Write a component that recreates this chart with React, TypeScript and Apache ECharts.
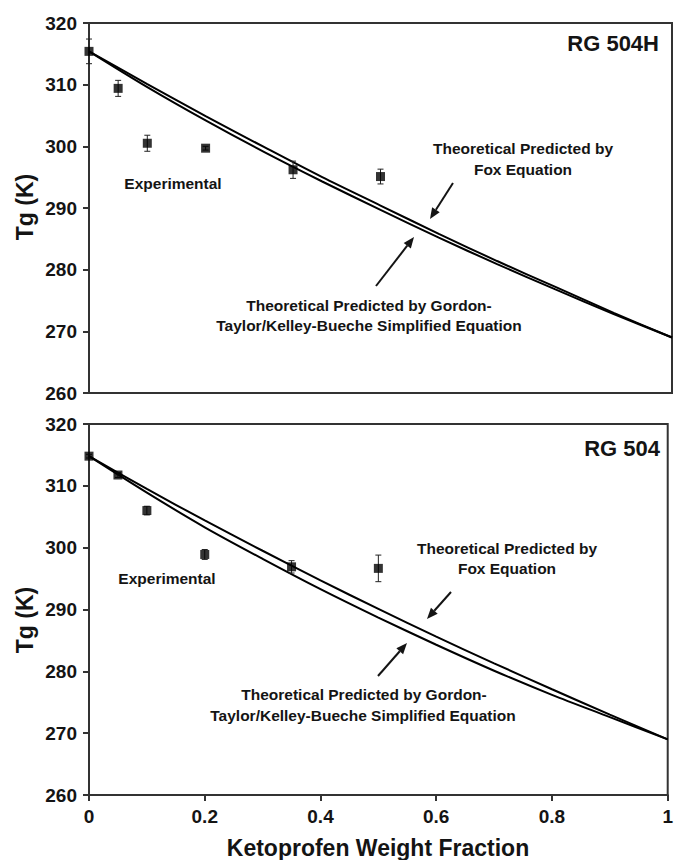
import React, { useEffect, useRef } from "react";
import * as echarts from "echarts";

const weightFraction = [0, 0.1, 0.2, 0.3, 0.4, 0.5, 0.6, 0.7, 0.8, 0.9, 1.0];
const foxTop = [315.4, 310.1, 304.9, 299.9, 295.0, 290.4, 285.8, 281.4, 277.2, 273.0, 269.0];
const gtTop = [315.4, 309.6, 304.2, 299.1, 294.3, 289.7, 285.2, 280.9, 276.8, 272.8, 269.0];
const foxBottom = [314.8, 309.5, 304.4, 299.5, 294.7, 290.1, 285.6, 281.3, 277.1, 273.0, 269.0];
const gtBottom = [314.8, 308.9, 303.3, 298.2, 293.3, 288.7, 284.3, 280.1, 276.2, 272.6, 269.0];

const expFraction = [0, 0.05, 0.1, 0.2, 0.35, 0.5];
const expTop = [315.4, 309.4, 300.5, 299.7, 296.2, 295.1];
const errTop = [2.0, 1.3, 1.3, 0.3, 1.4, 1.2];
const expBottom = [314.8, 311.75, 306.0, 298.9, 296.9, 296.65];
const errBottom = [0.3, 0.4, 0.7, 0.8, 1.0, 2.15];

const xTickLabels = ["0", "0.2", "0.4", "0.6", "0.8", "1"];
const yTickLabels = ["260", "270", "280", "290", "300", "310", "320"];

const FONT = "'Liberation Sans', Arial, sans-serif";
const INK = "#141414";

function arrow(x1: number, y1: number, x2: number, y2: number) {
  const a = Math.atan2(y2 - y1, x2 - x1);
  const L = 11;
  const W = 4.5;
  const bx = x2 - L * Math.cos(a);
  const by = y2 - L * Math.sin(a);
  const px = -Math.sin(a) * W;
  const py = Math.cos(a) * W;
  return [
    { type: "line", shape: { x1, y1, x2: bx, y2: by }, style: { stroke: INK, lineWidth: 2 } },
    {
      type: "polygon",
      shape: { points: [[x2, y2], [bx + px, by + py], [bx - px, by - py]] },
      style: { fill: INK },
    },
  ];
}

function txt(text: string, x: number, y: number, size: number, align = "center") {
  return {
    type: "text",
    x,
    y,
    style: {
      text,
      fill: INK,
      font: `bold ${size}px ${FONT}`,
      textAlign: align,
      textVerticalAlign: "middle",
    },
  };
}

function errorSeries(xs: number[], ys: number[], errs: number[], idx: number) {
  return {
    type: "custom",
    xAxisIndex: idx,
    yAxisIndex: idx,
    data: xs.map((x, i) => [x, ys[i], errs[i]]),
    renderItem: (params: any, api: any) => {
      const x = api.value(0);
      const y = api.value(1);
      const e = api.value(2);
      const top = api.coord([x, y + e]);
      const bot = api.coord([x, y - e]);
      const cw = 3;
      return {
        type: "group",
        children: [
          { type: "line", shape: { x1: top[0], y1: top[1], x2: bot[0], y2: bot[1] }, style: { stroke: "#222", lineWidth: 1 } },
          { type: "line", shape: { x1: top[0] - cw, y1: top[1], x2: top[0] + cw, y2: top[1] }, style: { stroke: "#222", lineWidth: 1 } },
          { type: "line", shape: { x1: bot[0] - cw, y1: bot[1], x2: bot[0] + cw, y2: bot[1] }, style: { stroke: "#222", lineWidth: 1 } },
        ],
      };
    },
    silent: true,
    z: 3,
  };
}

function lineSeries(ys: number[], idx: number) {
  return {
    type: "line",
    xAxisIndex: idx,
    yAxisIndex: idx,
    data: weightFraction.map((x, i) => [x, ys[i]]),
    smooth: 0.3,
    showSymbol: false,
    lineStyle: { color: "#000", width: 2 },
    silent: true,
    z: 2,
  };
}

function scatterSeries(xs: number[], ys: number[], idx: number) {
  return {
    type: "scatter",
    xAxisIndex: idx,
    yAxisIndex: idx,
    data: xs.map((x, i) => [x, ys[i]]),
    symbol: "rect",
    symbolSize: 9,
    itemStyle: { color: "#000" },
    silent: true,
    z: 4,
  };
}

export default function App() {
  const ref = useRef<HTMLDivElement>(null);
  useEffect(() => {
    document.body.style.margin = "0";
    const chart = echarts.init(ref.current!, undefined, { renderer: "svg" });
    const yMinV = Number(yTickLabels[0]);
    const yMaxV = Number(yTickLabels[yTickLabels.length - 1]);
    const yAxisBase = (gridIndex: number) => ({
      type: "value",
      gridIndex,
      min: yMinV,
      max: yMaxV,
      interval: 10,
      axisLine: { show: true, lineStyle: { color: "#333", width: 2 } },
      axisTick: { show: true, length: 6, inside: false, lineStyle: { color: "#333", width: 2 } },
      axisLabel: { margin: 12, color: INK, fontWeight: "bold", fontSize: 19, fontFamily: FONT },
      splitLine: { show: false },
    });
    const xAxisBase = (gridIndex: number, showLabels: boolean) => ({
      type: "value",
      gridIndex,
      min: 0,
      max: 1,
      interval: 0.2,
      axisLine: { show: true, lineStyle: { color: "#333", width: 2 } },
      axisTick: { show: showLabels, length: 6, lineStyle: { color: "#333", width: 2 } },
      axisLabel: {
        show: showLabels,
        margin: 12,
        color: INK,
        fontWeight: "bold",
        fontSize: 19,
        fontFamily: FONT,
        formatter: (v: number) => xTickLabels[Math.round(v / 0.2)] ?? String(v),
      },
      splitLine: { show: false },
    });
    const off = 401;
    chart.setOption({
      animation: false,
      backgroundColor: "#fff",
      grid: [
        { left: 89, top: 23, width: 583, height: 370, show: true, borderColor: "#333", borderWidth: 2, backgroundColor: "transparent" },
        { left: 89, top: 424, width: 583, height: 371, show: true, borderColor: "#333", borderWidth: 2, backgroundColor: "transparent" },
      ],
      xAxis: [xAxisBase(0, false), xAxisBase(1, true)],
      yAxis: [yAxisBase(0), yAxisBase(1)],
      series: [
        lineSeries(foxTop, 0),
        lineSeries(gtTop, 0),
        errorSeries(expFraction, expTop, errTop, 0),
        scatterSeries(expFraction, expTop, 0),
        lineSeries(foxBottom, 1),
        lineSeries(gtBottom, 1),
        errorSeries(expFraction, expBottom, errBottom, 1),
        scatterSeries(expFraction, expBottom, 1),
      ],
      graphic: [
        txt("RG 504H", 659, 43, 22, "right"),
        txt("Experimental", 173, 183, 15.5),
        txt("Theoretical Predicted by", 523, 148, 15.5),
        txt("Fox Equation", 523, 169, 15.5),
        txt("Theoretical Predicted by Gordon-", 369, 305, 15.5),
        txt("Taylor/Kelley-Bueche Simplified Equation", 369, 325, 15.5),
        ...arrow(453, 183, 430, 219),
        ...arrow(376, 286, 414, 237),
        txt("RG 504", 660, 448, 22, "right"),
        txt("Experimental", 167, 578, 15.5),
        txt("Theoretical Predicted by", 507, 548, 15.5),
        txt("Fox Equation", 507, 568, 15.5),
        txt("Theoretical Predicted by Gordon-", 364, 694, 15.5),
        txt("Taylor/Kelley-Bueche Simplified Equation", 363, 715, 15.5),
        ...arrow(451, 592, 427, 619),
        ...arrow(378, 676, 407, 643),
        {
          type: "text",
          x: 25,
          y: 207,
          rotation: Math.PI / 2,
          style: { text: "Tg (K)", fill: INK, font: `bold 23px ${FONT}`, textAlign: "center", textVerticalAlign: "middle" },
        },
        {
          type: "text",
          x: 25,
          y: 207 + off + 12,
          rotation: Math.PI / 2,
          style: { text: "Tg (K)", fill: INK, font: `bold 23px ${FONT}`, textAlign: "center", textVerticalAlign: "middle" },
        },
        txt("Ketoprofen Weight Fraction", 378, 848, 23),
      ],
    });
    return () => chart.dispose();
  }, []);
  return <div ref={ref} style={{ width: 676, height: 860 }} />;
}
